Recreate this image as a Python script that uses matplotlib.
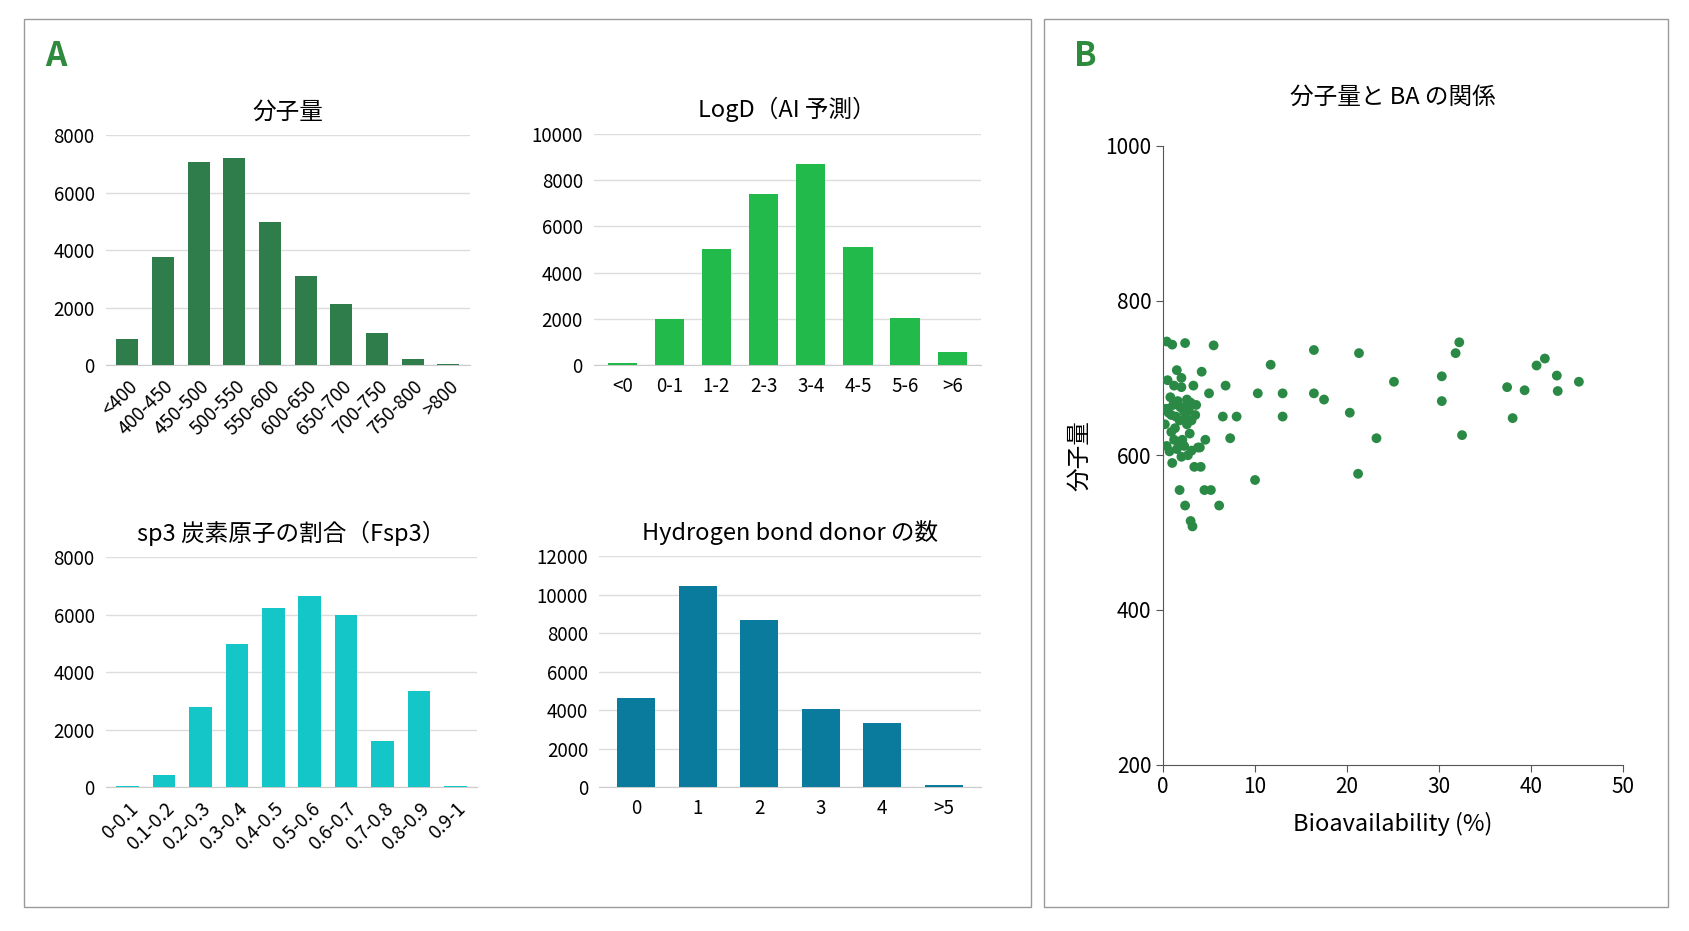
import matplotlib.pyplot as plt
from matplotlib.patches import Rectangle

plt.rcParams['font.family'] = ['Noto Sans CJK JP', 'DejaVu Sans']

# データ
mw_labels = ["<400", "400-450", "450-500", "500-550", "550-600", "600-650",
             "650-700", "700-750", "750-800", ">800"]
mw_counts = [900, 3750, 7050, 7200, 4980, 3100, 2120, 1100, 200, 30]

logd_labels = ["<0", "0-1", "1-2", "2-3", "3-4", "4-5", "5-6", ">6"]
logd_counts = [100, 2000, 5000, 7400, 8700, 5100, 2050, 580]

fsp3_labels = ["0-0.1", "0.1-0.2", "0.2-0.3", "0.3-0.4", "0.4-0.5", "0.5-0.6",
               "0.6-0.7", "0.7-0.8", "0.8-0.9", "0.9-1"]
fsp3_counts = [30, 420, 2800, 5000, 6250, 6650, 6000, 1600, 3350, 30]

hbd_labels = ["0", "1", "2", "3", "4", ">5"]
hbd_counts = [4650, 10450, 8700, 4050, 3350, 100]

ba = [0.4, 1.0, 2.4, 5.5, 1.5, 0.5, 1.2, 2.0, 3.3, 4.2, 0.8, 1.6, 2.6, 0.3, 1.1,
      2.2, 3.0, 0.6, 1.4, 2.8, 0.2, 1.8, 2.5, 3.5, 0.9, 1.3, 2.1, 2.9, 0.4, 1.7,
      3.8, 0.7, 1.5, 2.3, 3.1, 4.0, 1.0, 2.0, 2.7, 0.5, 1.2, 3.4, 4.5, 5.2, 6.5,
      7.3, 8.0, 1.8, 2.4, 3.0, 3.2, 4.1, 2.6, 2.7, 4.6, 10.3, 11.7, 13.0, 13.0,
      16.4, 16.4, 17.5, 20.3, 21.3, 21.2, 23.2, 25.1, 30.3, 30.3, 31.8, 32.2,
      32.5, 37.4, 38.0, 39.3, 40.6, 41.5, 42.8, 42.9, 45.2, 10.0, 6.1, 5.0,
      2.0, 3.6, 6.8, 1.9, 2.3, 1.4, 0.9, 2.6, 3.1]
mw = [747, 743, 745, 742, 710, 697, 690, 688, 690, 708, 675, 670, 672, 660, 665,
      662, 668, 655, 650, 658, 640, 645, 648, 652, 630, 635, 620, 628, 612, 615,
      610, 605, 608, 612, 606, 610, 590, 598, 600, 660, 620, 585, 555, 555, 650,
      622, 650, 555, 535, 515, 508, 585, 640, 660, 620, 680, 717, 680, 650, 736,
      680, 672, 655, 732, 576, 622, 695, 702, 670, 732, 746, 626, 688, 648, 684,
      716, 725, 703, 683, 695, 568, 535, 680, 700, 665, 690, 662, 656, 668, 652,
      664, 645]

fig = plt.figure(figsize=(16.9, 9.31), dpi=100)
W, H = 1565.0, 862.0

def box(x0, y0, x1, y1):
    fig.add_artist(Rectangle((x0 / W, 1 - y1 / H), (x1 - x0) / W, (y1 - y0) / H,
                             transform=fig.transFigure, fill=False,
                             edgecolor='#9a9a9a', linewidth=1.0))

box(22, 18, 955, 840)
box(967, 18, 1545, 840)
fig.text(42 / W, 1 - 52 / H, "A", fontsize=24, fontweight='bold', color='#2e8b3e', va='center')
fig.text(995 / W, 1 - 52 / H, "B", fontsize=24, fontweight='bold', color='#2e8b3e', va='center')

def axes_px(x0, y0, x1, y1):
    return fig.add_axes([x0 / W, 1 - y1 / H, (x1 - x0) / W, (y1 - y0) / H])

def bar_panel(rect, labels, counts, color, title, ymax, step, rot):
    ax = axes_px(*rect)
    ax.bar(range(len(labels)), counts, width=0.62, color=color, zorder=3)
    ax.set_ylim(0, ymax)
    ax.set_yticks(range(0, ymax + 1, step))
    ax.set_xlim(-0.6, len(labels) - 0.4)
    ax.set_xticks(range(len(labels)))
    if rot:
        ax.set_xticklabels(labels, rotation=45, ha='right', rotation_mode='anchor')
    else:
        ax.set_xticklabels(labels)
    ax.grid(axis='y', color='#dddddd', linewidth=1, zorder=0)
    for s in ['top', 'right', 'left']:
        ax.spines[s].set_visible(False)
    ax.spines['bottom'].set_color('#cccccc')
    ax.tick_params(length=0, labelsize=13.5, pad=8)
    ax.set_title(title, fontsize=17, pad=12)
    return ax

bar_panel((98, 125, 435, 338), mw_labels, mw_counts, '#2f7d4b', "分子量", 8000, 2000, True)
bar_panel((550, 124, 908, 338), logd_labels, logd_counts, '#22bb4b', "LogD（AI 予測）", 10000, 2000, False)
bar_panel((98, 516, 442, 729), fsp3_labels, fsp3_counts, '#14c6c8', "sp3 炭素原子の割合（Fsp3）", 8000, 2000, True)
bar_panel((555, 515, 908, 729), hbd_labels, hbd_counts, '#0a7b9c', "Hydrogen bond donor の数", 12000, 2000, False)

ax = axes_px(1077, 135, 1503, 708)
ax.scatter(ba, mw, s=50, color='#2a8a45', edgecolors='none', zorder=3)
ax.set_xlim(0, 50)
ax.set_ylim(200, 1000)
ax.set_xticks([0, 10, 20, 30, 40, 50])
ax.set_yticks([200, 400, 600, 800, 1000])
for s in ['top', 'right']:
    ax.spines[s].set_visible(False)
ax.spines['left'].set_color('#555555')
ax.spines['bottom'].set_color('#555555')
ax.tick_params(labelsize=15, direction='out', length=5, color='#555555')
ax.set_xlabel("Bioavailability (%)", fontsize=17, labelpad=10)
ax.set_ylabel("分子量", fontsize=17, labelpad=10)
ax.set_title("分子量と BA の関係", fontsize=17, pad=30)

fig.savefig("out.png", dpi=100)
